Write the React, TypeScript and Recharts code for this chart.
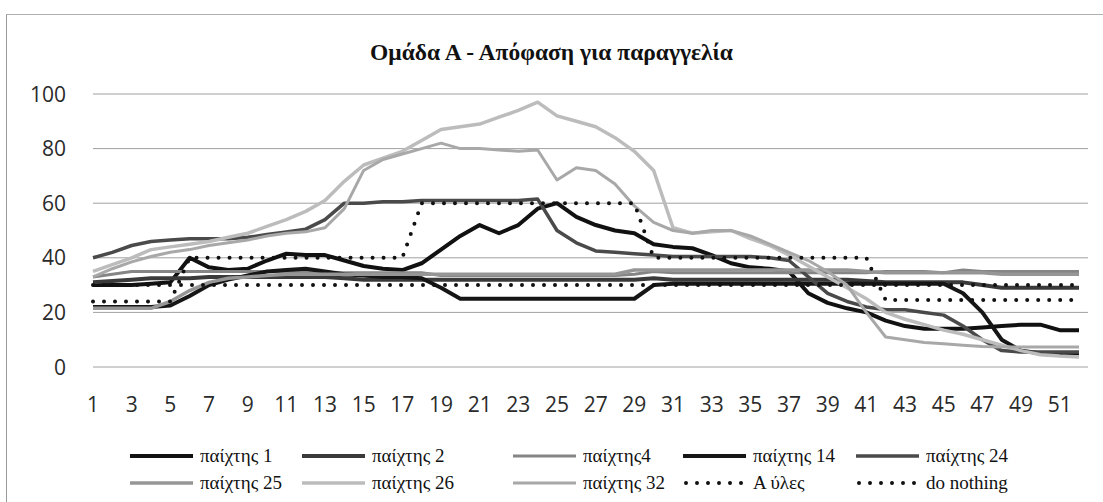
import React from 'react';
import { LineChart, Line, XAxis, YAxis, CartesianGrid } from 'recharts';

const categories = [1,2,3,4,5,6,7,8,9,10,11,12,13,14,15,16,17,18,19,20,21,22,23,24,25,26,27,28,29,30,31,32,33,34,35,36,37,38,39,40,41,42,43,44,45,46,47,48,49,50,51,52];
const yTicks = [0, 20, 40, 60, 80, 100];

const player1 = [30,30,30,30.5,31,40,36.5,35.5,36,39,41.5,41,41,39,37,36,35.5,38,43,48,52,49,52,58,60,55,52,50,49,45,44,43.5,41,38,36.5,36,35,27,23.5,21.5,20,17,15,14,14,14,14.5,15,15.5,15.5,13.5,13.5];
const player2 = [31,31.5,32,32.5,32.5,32.5,33,33,33,33,33,33,33,32.5,32,32,32,32,32,32,32,32,32,32,32,32,32,32,32,32.5,32,32,32,32,32,32,32,32,32,32,31.5,31,31,31,31,31,30,29,29,29,29,29];
const player4 = [33,34,35,35,35,35,35,35,35,35,35,35,34.5,34.5,34.5,34.5,34.5,34.5,33.5,33.5,33.5,33.5,33.5,33.5,33.5,33.5,33.5,33.5,34,35,34.5,34.5,34.5,34.5,34.5,34.5,34.5,34.5,34.5,34.5,34.5,35,35,35,34.5,35.5,35,35,35,35,35,35];
const player14 = [22,22,22,22,22.5,26,30,32,33.5,35,35.5,36,35,34,33.5,33,33,32.5,29,25,25,25,25,25,25,25,25,25,25,30,30.5,30.5,30.5,30.5,30.5,30.5,30.5,30.5,30.5,30.5,30.5,30.5,30.5,30.5,30.5,27,20,10,6,5,5,5];
const player24 = [40,42,44.5,46,46.5,47,47,47,47.5,48.5,49.5,50.5,54,60,60,60.5,60.5,61,61,61,61,61,61,61.5,50,45.5,42.5,42,41.5,41,40.5,40.5,40.5,40.5,40.5,40,39,33,27,24,22,21,21,20,19,15,10,6,5.5,5.5,5.5,5.5];
const player25 = [21.5,21.5,21.5,21.5,24,28,31,32.5,33,33.5,34,34,34,34,34,34,34,34,34,34,34,34,34,34,34,34,34,34,35.5,35.5,35.5,35.5,35.5,35.5,35.5,35.5,35.5,35.5,35.5,35.5,35,34.5,34.5,34.5,34.5,34.5,34.5,34,34,34,34,34];
const player26 = [35,37.5,40,43,44,45,46,47.5,49,51.5,54,57,61,68,74,76.5,79,83,87,88,89,91.5,94,97,92,90,88,84,79,72,51,49,49.5,50,47,44.5,41,37,33,29,25,20,17.5,15.5,13.5,12,10,8,6,4.5,4,3.7];
const player32 = [33,36,38.5,40.5,42,43,44.5,45.5,46.5,48,49,49.5,51,58,72,76,78,80,82,80,80,79.5,79,79.5,68.5,73,72,67,59,53,50,49,50,50,48,45,42,39,35,30,20,11,10,9,8.5,8,7.5,7.3,7.3,7.3,7.3,7.3];
const allUles = [24,24,24,24,24,40,40,40,40,40,40,40,40,40,40,40,40,60,60,60,60,60,60,60,60,60,60,60,60,40,40,40,40,40,40,40,40,40,40,40,40,24.5,24.5,24.5,24.5,24.5,24.5,24.5,24.5,24.5,24.5,24.5];
const doNothing = [30,30,30,30,30,30,30,30,30,30,30,30,30,30,30,30,30,30,30,30,30,30,30,30,30,30,30,30,30,30,30,30,30,30,30,30,30,30,30,30,30,30,30,30,30,30,30,30,30,30,30,30];

const seriesNames = ['παίχτης 1', 'παίχτης 2', 'παίχτης4', 'παίχτης 14', 'παίχτης 24', 'παίχτης 25', 'παίχτης 26', 'παίχτης 32', 'Α ύλες', 'do nothing'];
const seriesValues = [player1, player2, player4, player14, player24, player25, player26, player32, allUles, doNothing];
const seriesKeys = ['p1', 'p2', 'p4', 'p14', 'p24', 'p25', 'p26', 'p32', 'ules', 'nothing'];

const styles = [
  { color: '#111111', width: 4, dotted: false },
  { color: '#3a3a3a', width: 4, dotted: false },
  { color: '#858585', width: 3, dotted: false },
  { color: '#161616', width: 4, dotted: false },
  { color: '#4a4a4a', width: 3.5, dotted: false },
  { color: '#969696', width: 3.5, dotted: false },
  { color: '#bcbcbc', width: 3.5, dotted: false },
  { color: '#a8a8a8', width: 3, dotted: false },
  { color: '#111111', width: 4, dotted: true },
  { color: '#111111', width: 4, dotted: true },
];

const data = categories.map((c, i) => {
  const row: Record<string, number> = { x: c };
  seriesKeys.forEach((k, s) => {
    row[k] = seriesValues[s][i];
  });
  return row;
});

const legendPos = [
  { left: 130, top: 446 }, { left: 302, top: 446 }, { left: 513, top: 446 }, { left: 683, top: 446 }, { left: 856, top: 446 },
  { left: 130, top: 473 }, { left: 302, top: 473 }, { left: 513, top: 473 }, { left: 683, top: 473 }, { left: 856, top: 473 },
];

const tickFont = '"Open Sans", "DejaVu Sans", sans-serif';

const YTick = (props: any) => (
  <text x={66} y={props.y} dy={7.5} textAnchor="end" fontFamily={tickFont} fontSize={21} fill="#2a2a2a">
    {props.payload.value}
  </text>
);

const XTick = (props: any) => (
  <text x={props.x} y={412} textAnchor="middle" fontFamily={tickFont} fontSize={21} fill="#2a2a2a">
    {props.payload.value}
  </text>
);

export default function App() {
  return (
    <div style={{ position: 'absolute', left: 0, top: 0, width: 1103, height: 502, background: '#fff', overflow: 'hidden' }}>
      <div style={{ position: 'absolute', left: 6, top: 14, width: 1097, height: 488, borderLeft: '1px solid #9a9a9a', borderTop: '1px solid #b0b0b0' }} />
      <div style={{ position: 'absolute', left: 0, top: 39, width: 1103, textAlign: 'center', fontFamily: '"Liberation Serif", "DejaVu Serif", serif', fontWeight: 'bold', fontSize: 23.5, color: '#111', lineHeight: '26px' }}>
        Ομάδα Α - Απόφαση για παραγγελία
      </div>
      <div style={{ position: 'absolute', left: 0, top: 0 }}>
        <LineChart width={1103} height={502} data={data} margin={{ top: 94, right: 15, bottom: 95, left: 0 }}>
          <CartesianGrid vertical={false} stroke="#a0a0a0" strokeWidth={1} />
          <XAxis
            dataKey="x"
            type="category"
            interval={1}
            axisLine={false}
            tickLine={false}
            height={40}
            padding={{ left: 0, right: 9 }}
            tick={<XTick />}
          />
          <YAxis
            type="number"
            domain={[0, 100]}
            ticks={yTicks}
            width={93}
            axisLine={false}
            tickLine={false}
            tick={<YTick />}
          />
          {seriesKeys.map((k, s) => (
            <Line
              key={k}
              dataKey={k}
              name={seriesNames[s]}
              type="linear"
              stroke={styles[s].color}
              strokeWidth={styles[s].width}
              strokeDasharray={styles[s].dotted ? '0 11' : undefined}
              strokeLinecap={styles[s].dotted ? 'round' : 'butt'}
              strokeLinejoin="round"
              dot={false}
              activeDot={false}
              isAnimationActive={false}
            />
          ))}
        </LineChart>
      </div>
      {seriesKeys.map((k, s) => (
        <div key={k} style={{ position: 'absolute', left: legendPos[s].left, top: legendPos[s].top, height: 20, whiteSpace: 'nowrap' }}>
          <svg width={64} height={20} style={{ position: 'absolute', left: 0, top: 0 }}>
            <line
              x1={styles[s].dotted ? 3 : 0}
              y1={10}
              x2={styles[s].dotted ? 60 : 63}
              y2={10}
              stroke={styles[s].color}
              strokeWidth={styles[s].width}
              strokeDasharray={styles[s].dotted ? '0 11' : undefined}
              strokeLinecap={styles[s].dotted ? 'round' : 'butt'}
            />
          </svg>
          <span style={{ position: 'absolute', left: 70, top: -1, fontFamily: '"Liberation Serif", "DejaVu Serif", serif', fontSize: 19, color: '#111', lineHeight: '22px' }}>
            {seriesNames[s]}
          </span>
        </div>
      ))}
    </div>
  );
}
